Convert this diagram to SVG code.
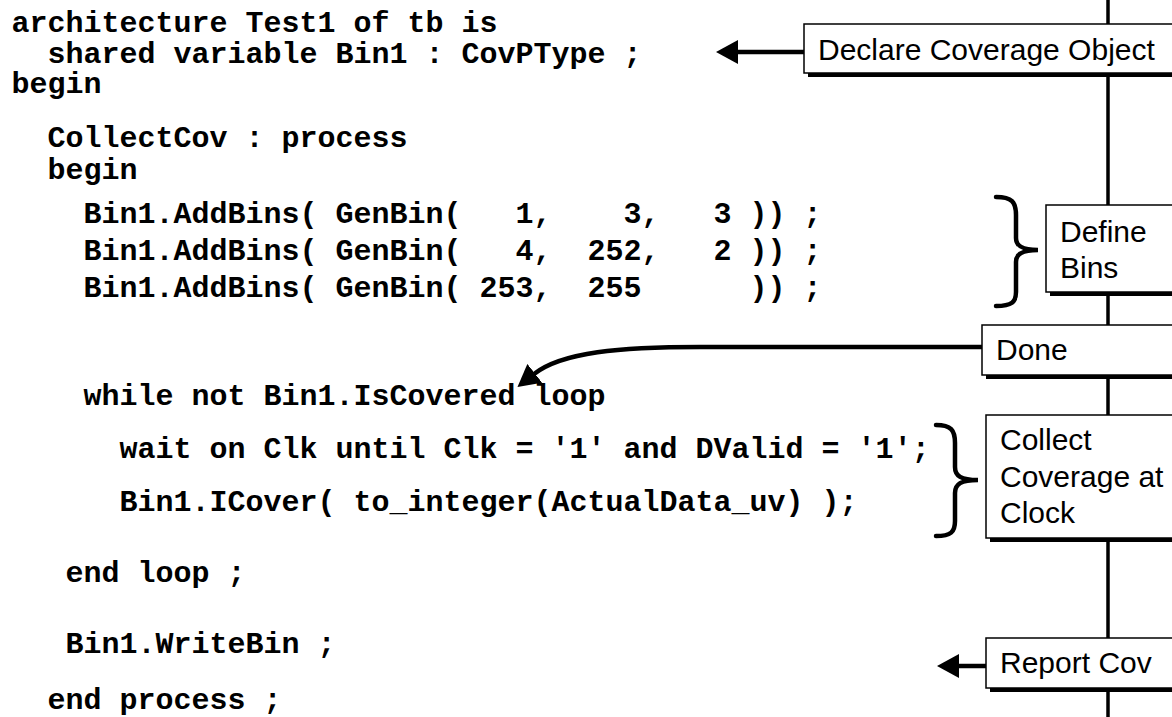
<svg xmlns="http://www.w3.org/2000/svg" width="1172" height="717" viewBox="0 0 1172 717" xml:space="preserve">
<style>
.code{font-family:"Liberation Mono","Courier New",monospace;font-weight:bold;font-size:30px;fill:#000;white-space:pre}
.lbl{font-family:"Liberation Sans",Arial,sans-serif;font-size:30px;fill:#000}
.box{fill:#fff;stroke:#000;stroke-width:1.5}
.shadow{fill:#000}
.conn{fill:none;stroke:#000;stroke-width:4.5}
.brace{fill:none;stroke:#000;stroke-width:4.5;stroke-linecap:round}
.spine{stroke:#000;stroke-width:3.5}
</style>
<defs>
<marker id="ah" markerUnits="userSpaceOnUse" viewBox="0 0 22 24" markerWidth="22" markerHeight="24" refX="1" refY="12" orient="auto">
<path d="M0,0 L22,12 L0,24 z" fill="#000"/>
</marker>
</defs>
<rect width="1172" height="717" fill="#fff"/>
<line class="spine" x1="1108" y1="0" x2="1108" y2="717"/>
<g id="code">
<text class="code" x="11.5" y="32">architecture Test1 of tb is</text>
<text class="code" x="47.5" y="63">shared variable Bin1 : CovPType ;</text>
<text class="code" x="11.5" y="93">begin</text>
<text class="code" x="47.5" y="147">CollectCov : process</text>
<text class="code" x="47.5" y="179">begin</text>
<text class="code" x="83.5" y="223">Bin1.AddBins( GenBin(   1,    3,   3 )) ;</text>
<text class="code" x="83.5" y="260">Bin1.AddBins( GenBin(   4,  252,   2 )) ;</text>
<text class="code" x="83.5" y="297">Bin1.AddBins( GenBin( 253,  255      )) ;</text>
<text class="code" x="83.5" y="405">while not Bin1.IsCovered loop</text>
<text class="code" x="119.5" y="458">wait on Clk until Clk = '1' and DValid = '1';</text>
<text class="code" x="119.5" y="511">Bin1.ICover( to_integer(ActualData_uv) );</text>
<text class="code" x="65.5" y="582">end loop ;</text>
<text class="code" x="65.5" y="653">Bin1.WriteBin ;</text>
<text class="code" x="47.5" y="709">end process ;</text>
</g>
<g id="connectors">
<path class="conn" d="M804 52 L737 52" marker-end="url(#ah)"/>
<path class="conn" d="M982 347 L700 347 C620 347 562 352 534 374" marker-end="url(#ah)"/>
<path class="conn" d="M986 666 L958 666" marker-end="url(#ah)"/>
<path class="brace" d="M996 197 C1012 197 1016 202 1016 215 L1016 238 C1016 246 1022 250 1038 250 C1022 250 1016 254 1016 262 L1016 292 C1016 302 1012 306 996 306"/>
<path class="brace" d="M936 425 C951 425 955 430 955 443 L955 467 C955 476 961 480 978 480 C961 480 955 484 955 493 L955 521 C955 532 951 536 936 536"/>
</g>
<g id="declare">
<rect class="shadow" x="808" y="28" width="380" height="49"/>
<rect class="box" x="804" y="24" width="380" height="49"/>
<text class="lbl" x="818" y="60">Declare Coverage Object</text>
</g>
<g id="define">
<rect class="shadow" x="1050" y="209" width="140" height="87"/>
<rect class="box" x="1046" y="205" width="140" height="87"/>
<text class="lbl" x="1060" y="242">Define</text>
<text class="lbl" x="1060" y="278">Bins</text>
</g>
<g id="done">
<rect class="shadow" x="986" y="329" width="200" height="50"/>
<rect class="box" x="982" y="325" width="200" height="50"/>
<text class="lbl" x="996" y="360">Done</text>
</g>
<g id="collect">
<rect class="shadow" x="990" y="419" width="200" height="123"/>
<rect class="box" x="986" y="415" width="200" height="123"/>
<text class="lbl" x="1000" y="450">Collect</text>
<text class="lbl" x="1000" y="487">Coverage at</text>
<text class="lbl" x="1000" y="523">Clock</text>
</g>
<g id="report">
<rect class="shadow" x="990" y="642" width="200" height="50"/>
<rect class="box" x="986" y="638" width="200" height="50"/>
<text class="lbl" x="1000" y="673">Report Cov</text>
</g>
</svg>
